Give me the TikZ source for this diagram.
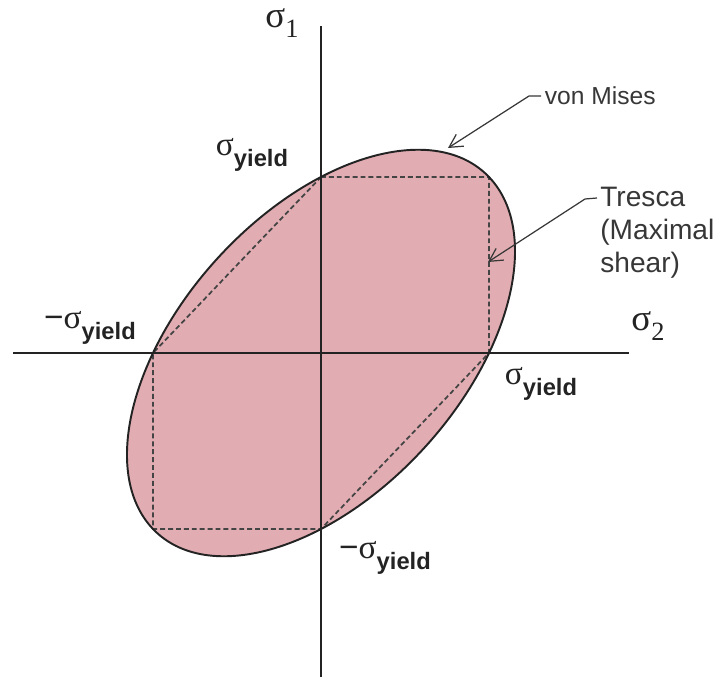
\documentclass[tikz,border=0pt]{standalone}
\usepackage[no-math]{fontspec}
\setmainfont{Liberation Sans}
\newfontfamily\grk{Liberation Serif}
\usepackage{tikz}
\usetikzlibrary{arrows.meta}
\definecolor{ysPink}{RGB}{226,173,178}
\definecolor{ysLine}{RGB}{35,35,35}
\definecolor{ysText}{RGB}{55,55,55}
\newcommand{\sigY}{{\grk σ}\raisebox{-0.32em}{\fontsize{13.5}{15}\selectfont\bfseries yield}}
\newcommand{\sigN}[1]{{\grk σ}\raisebox{-0.28em}{\fontsize{15}{17}\selectfont\grk #1}}

\begin{document}
\begin{tikzpicture}[x=0.02cm, y=-0.02cm, >={Straight Barb[length=2.6mm,width=2.8mm]}]
\tikzstyle{axis}=[draw=ysLine, line width=0.9pt]
\tikzstyle{tresca}=[draw=ysLine!85, line width=1pt, dash pattern=on 2.8pt off 1.7pt]
\tikzstyle{sig}=[text=ysLine, inner sep=1pt, font=\fontsize{19}{22}\selectfont]
\tikzstyle{tag}=[text=ysText, inner sep=2pt, align=left]
\tikzstyle{leader}=[->, draw=ysText, line width=0.7pt]
\useasboundingbox (0,0) rectangle (718,680);

\coordinate (O) at (321,353);
\coordinate (s1top) at (321,26);
\coordinate (s1bot) at (321,677);
\coordinate (s2left) at (13,353);
\coordinate (s2right) at (629,353);
\coordinate (pTop) at (321,177);
\coordinate (pTR) at (489,177);
\coordinate (pRight) at (489,353);
\coordinate (pBot) at (321,529);
\coordinate (pBL) at (153,529);
\coordinate (pLeft) at (153,353);

\path[fill=ysPink, shift={(O)}, xscale=168, yscale=176, rotate=45] (0,0) ellipse [x radius=1.4142, y radius=0.8165];
\draw[tresca] (pTop) -- (pTR) -- (pRight) -- (pBot) -- (pBL) -- (pLeft) -- cycle;
\draw[axis] (s1top) -- (s1bot);
\draw[axis] (s2left) -- (s2right);
\path[draw=ysLine, line width=1.1pt, shift={(O)}, xscale=168, yscale=176, rotate=45] (0,0) ellipse [x radius=1.4142, y radius=0.8165];

\node[sig, font=\fontsize{21}{24}\selectfont] (sigOne) at (282,23) {\sigN{1}};
\node[sig, font=\fontsize{21}{24}\selectfont] (sigTwo) at (648,326) {\sigN{2}};
\node[sig] (yTop) at (252,155) {\sigY};
\node[sig] (yLeft) at (90,328) {−\sigY};
\node[sig] (yRight) at (541,384) {\sigY};
\node[sig] (yBot) at (385,558) {−\sigY};

\node[tag, anchor=west, font=\fontsize{14}{16}\selectfont] (vm) at (541,96) {von Mises};
\node[tag, anchor=north west, inner sep=0pt, font=\fontsize{16}{18.7}\selectfont] (tr) at (600,187) {Tresca\\(Maximal\\shear)};

\coordinate (vmTip) at (448,148);
\coordinate (trIn) at (597,198);
\coordinate (trTip) at (488,262);
\draw[leader] (vm.west) -- ++(-12,0) -- (vmTip);
\draw[leader] (trIn) -- ++(-12,1) -- (trTip);
\end{tikzpicture}
\end{document}
